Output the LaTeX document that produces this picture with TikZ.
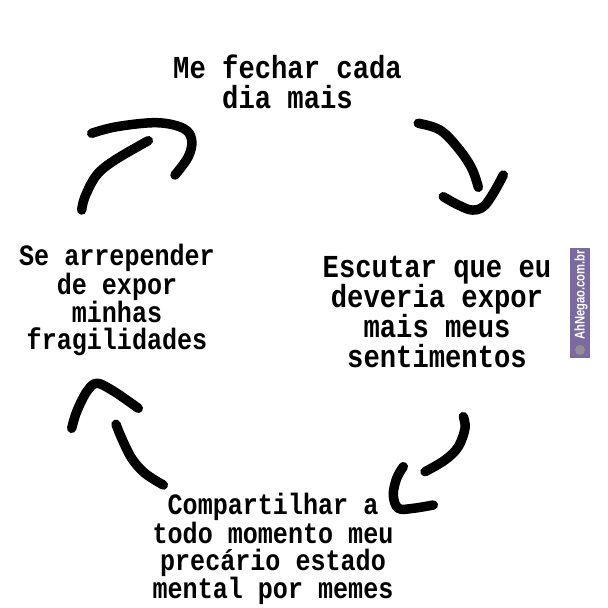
\documentclass[tikz,border=0pt]{standalone}
\usepackage{fontspec}
\newfontfamily\tw[FakeStretch=0.85]{Liberation Mono}
\newfontfamily\wmfont[FakeStretch=0.8]{Liberation Sans}
\definecolor{wm}{RGB}{122,106,160}
\definecolor{wmicon}{RGB}{150,140,150}
\tikzset{
  stroke/.style={line width=9.5pt, line cap=round, line join=round, black},
  bigtext/.style={inner sep=0pt, anchor=north, align=center, font=\tw\bfseries\fontsize{32}{30}\selectfont},
  smalltext/.style={inner sep=0pt, anchor=north, align=center, font=\tw\bfseries\fontsize{29.5}{27}\selectfont},
}
\begin{document}
\begin{tikzpicture}[x=1pt,y=-1pt]
\useasboundingbox (0,0) rectangle (608,608);
\fill[white] (0,0) rectangle (608,608);

% texts
\node[bigtext] (top) at (287.5,55) {Me fechar cada\\dia mais};
\node[bigtext] (right) at (437,256) {Escutar que eu\\deveria expor\\mais meus\\sentimentos};
\node[smalltext] (bottom) at (273,493) {Compartilhar a\\todo momento meu\\precário estado\\mental por memes};
\node[smalltext] (left) at (117,244) {Se arrepender\\de expor\\minhas\\fragilidades};

% top-left arrow
\draw[stroke] plot[smooth, tension=0.6] coordinates {(81.7,210) (85,196.7) (96.7,175) (115,160) (148.3,140.7)};
\draw[stroke] plot[smooth, tension=0.6] coordinates {(91.7,133.3) (116.7,126.7) (156.7,122.7) (183.3,128.3) (191.7,140) (188.3,156.7) (175,175)};

% top-right arrow
\draw[stroke] plot[smooth, tension=0.6] coordinates {(418.3,123.3) (440,130) (458.3,148.3) (471.7,168.3) (478.3,187.3)};
\draw[stroke] plot[smooth, tension=0.6] coordinates {(443.3,196.7) (458.3,205) (471.7,210) (483.3,206.7) (493.3,193.3) (503.3,175)};

% bottom-right arrow
\draw[stroke] plot[smooth, tension=0.6] coordinates {(463.3,416.7) (465,428.3) (458.3,446.7) (445,460) (425,471.7)};
\draw[stroke] plot[smooth, tension=0.6] coordinates {(403.3,466.7) (396.7,478.3) (393.3,495) (398.3,508.3) (413.3,508.3) (433.3,505)};

% bottom-left arrow
\draw[stroke] plot[smooth, tension=0.6] coordinates {(163.3,485) (145,473.3) (131.7,458.3) (121.7,438.3) (116,424.3)};
\draw[stroke] plot[smooth, tension=0.6] coordinates {(71.7,428.3) (76.7,411.7) (86.7,391.7) (96.7,383.3) (111.7,390) (126.7,400) (138.3,408.3)};

% watermark
\fill[wm] (570,248) rectangle (590,358);
\node[rotate=90, text=white, inner sep=0pt, font=\wmfont\bfseries\fontsize{14}{15}\selectfont] (wmtext) at (581,295) {AhNegao.com.br};
\fill[wmicon] (580,350) ellipse (5 and 5);
\end{tikzpicture}
\end{document}
